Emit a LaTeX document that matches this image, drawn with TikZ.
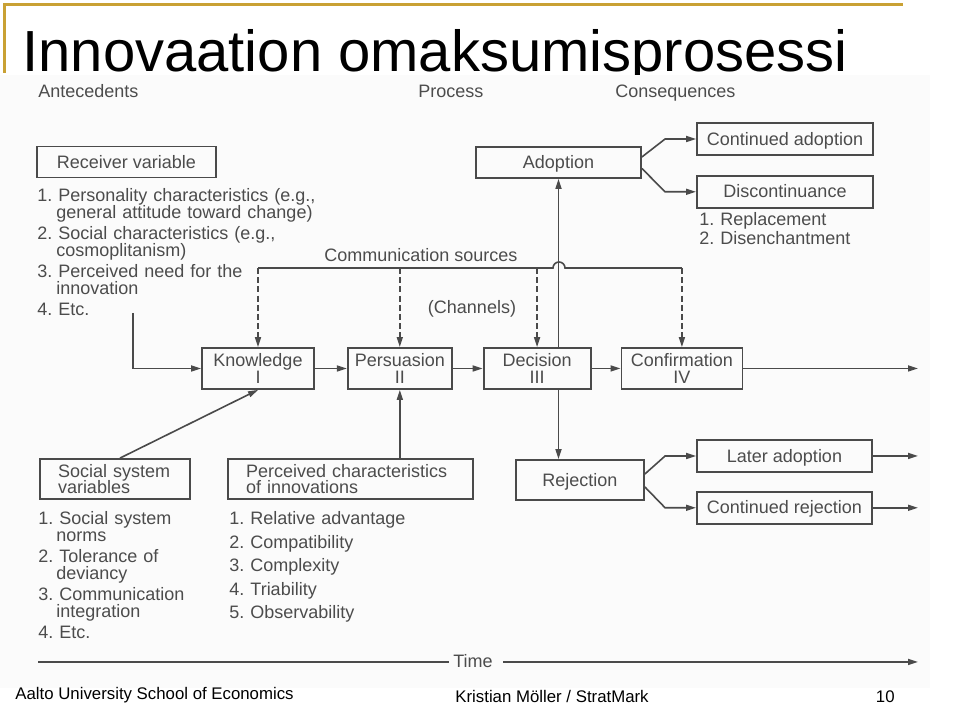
\documentclass[tikz,border=0pt]{standalone}
\usepackage{fontspec}
\setmainfont{Liberation Sans}
\usetikzlibrary{
    arrows.meta,
    positioning,
    calc
}
\definecolor{slidegold}{RGB}{201,161,52}
\definecolor{scanline}{RGB}{74,74,74}
\definecolor{scantext}{RGB}{76,76,76}
\definecolor{scanpaper}{RGB}{251,251,251}
\newcommand{\scanfont}{\fontsize{9}{8.4}\selectfont}
\tikzstyle{box} = [
    rectangle,
    draw=scanline,
    line width=0.9pt,
    text=scantext,
    font=\scanfont,
    minimum height=15.5pt,
    inner sep=0pt,
    align=center
]
\tikzstyle{onebox} = [
    box,
    text height=6.6pt,
    text depth=0.4pt
]
\tikzstyle{stage} = [
    box,
    minimum height=20.5pt
]
\tikzstyle{leftbox} = [
    box,
    minimum height=20pt,
    inner xsep=9pt,
    align=left
]
\tikzstyle{scanlabel} = [
    text=scantext,
    font=\scanfont,
    inner sep=0pt
]
\tikzstyle{itemlist} = [
    scanlabel,
    align=left,
    anchor=base west
]
\tikzstyle{arrow} = [
    -{Triangle[length=5pt,width=3pt]},
    line width=0.8pt,
    draw=scanline
]
\tikzstyle{channel} = [
    arrow,
    dash pattern=on 3pt off 1.6pt
]

\begin{document}
\frenchspacing
\begin{tikzpicture}[x=0.5pt, y=-0.5pt]
    \useasboundingbox (0,0) rectangle (960,704);

    % Slide title
    \draw[slidegold, line width=1.5pt] (4,73) -- (4,5) -- (903,5);
    \node[anchor=base west, inner sep=0pt, font=\fontsize{29}{29}\selectfont] (title) at (22,72) {Innovaation omaksumisprosessi};

    % Scanned figure
    \fill[scanpaper] (0,75) rectangle (930,688);
    \node[scanlabel, anchor=base west] (antec) at (38,98) {Antecedents};
    \node[scanlabel, anchor=base west] (proc) at (418,98) {Process};
    \node[scanlabel, anchor=base west] (conseq) at (615,98) {Consequences};

    % Antecedents
    \node[onebox, minimum width=89.5pt] (recv) at (126.5,162) {Receiver variable};
    \node[itemlist, text width=145pt] (recvlist) at (37,202) {1. Personality characteristics (e.g.,\\\hspace*{9.5pt}general attitude toward change)\\[2.1pt]2. Social characteristics (e.g.,\\\hspace*{9.5pt}cosmoplitanism)\\[2.1pt]3. Perceived need for the\\\hspace*{9.5pt}innovation\\[2.1pt]4. Etc.};
    \coordinate (recvout) at (133,313);

    \node[leftbox, text width=57pt] (social) at (115,479) {Social system\\variables};
    \node[itemlist, text width=80pt] (sociallist) at (38,525) {1. Social system\\\hspace*{9pt}norms\\[2.1pt]2. Tolerance of\\\hspace*{9pt}deviancy\\[2.1pt]3. Communication\\\hspace*{9pt}integration\\[2.1pt]4. Etc.};

    \node[leftbox, text width=104.5pt] (perc) at (350.5,479) {Perceived characteristics\\of innovations};
    \node[itemlist, text width=100pt] (perclist) at (229,525) {1. Relative advantage\\[3.35pt]2. Compatibility\\[3.35pt]3. Complexity\\[3.35pt]4. Triability\\[3.35pt]5. Observability};

    % Process
    \node[stage, minimum width=56pt] (know) at (258,368.5) {Knowledge\\I};
    \node[stage, minimum width=52pt, right=16pt of know] (pers) {Persuasion\\II};
    \node[stage, minimum width=53.5pt, right=15pt of pers] (deci) {Decision\\III};
    \node[stage, minimum width=60.5pt, right=14.5pt of deci] (conf) {Confirmation\\IV};

    \draw[arrow] (know) -- (pers);
    \draw[arrow] (pers) -- (deci);
    \draw[arrow] (deci) -- (conf);

    % Communication channels
    \node[scanlabel] (commsrc) at (421,255) {Communication sources};
    \node[scanlabel] (channels) at (472,309) {(Channels)};
    \coordinate (commline) at (0,268);
    \draw[draw=scanline, line width=0.8pt] (know.north |- commline) -- (553,268) arc (180:360:6) -- (conf.north |- commline);
    \draw[channel] (know.north |- commline) -- (know.north);
    \draw[channel] (pers.north |- commline) -- (pers.north);
    \draw[channel] (deci.north |- commline) -- (deci.north);
    \draw[channel] (conf.north |- commline) -- (conf.north);

    % Consequences
    \node[onebox, minimum width=82.5pt] (adopt) at (558.5,162.5) {Adoption};
    \node[onebox, minimum width=88pt, minimum height=16pt] (contad) at (785,139) {Continued adoption};
    \node[onebox, minimum width=88pt, minimum height=16pt, below=9.5pt of contad] (discont) {Discontinuance};
    \node[itemlist, text width=90pt] (disclist) at (699,226) {1. Replacement\\[1.1pt]2. Disenchantment};

    \node[onebox, minimum width=64pt, minimum height=20pt] (rej) at (580,480) {Rejection};
    \node[onebox, minimum width=87.5pt, minimum height=16pt] (later) at (784.5,456) {Later adoption};
    \node[onebox, minimum width=87.5pt, minimum height=16pt, below=9pt of later] (contrej) {Continued rejection};

    \coordinate (rightend) at (918,0);

    % Antecedent links
    \draw[arrow] (recvout) |- (know.west);
    \draw[arrow] ([xshift=2.5pt]social.north) -- (know.south);
    \draw[arrow] (pers.south |- perc.north) -- (pers.south);

    % Decision outcomes
    \draw[arrow] (adopt.south |- deci.north) -- (adopt.south);
    \draw[arrow] (adopt.south |- deci.south) -- (adopt.south |- rej.north);
    \draw[arrow] ([yshift=2.75pt]adopt.east) -- ([xshift=-15.5pt]contad.west) -- (contad.west);
    \draw[arrow] ([yshift=-3pt]adopt.east) -- ([xshift=-15.5pt]discont.west) -- (discont.west);
    \draw[arrow] ([yshift=3pt]rej.east) -- ([xshift=-15.5pt]later.west) -- (later.west);
    \draw[arrow] ([yshift=-3.5pt]rej.east) -- ([xshift=-15.5pt]contrej.west) -- (contrej.west);
    \draw[arrow] (conf.east) -- (conf.east -| rightend);
    \draw[arrow] (later.east) -- (later.east -| rightend);
    \draw[arrow] (contrej.east) -- (contrej.east -| rightend);

    % Time axis
    \node[scanlabel] (time) at (473,661) {Time};
    \coordinate (timestart) at (38,662);
    \draw[draw=scanline, line width=0.8pt] (timestart) -- ([xshift=-2pt]time.west |- timestart);
    \draw[arrow] ([xshift=5pt]time.east |- timestart) -- (timestart -| rightend);

    % Footer
    \node[anchor=base west, inner sep=0pt, font=\fontsize{8.4}{8.4}\selectfont] (school) at (15,700) {Aalto University School of Economics};
    \node[anchor=base west, inner sep=0pt, font=\fontsize{8.4}{8.4}\selectfont] (author) at (455,703) {Kristian Möller / StratMark};
    \node[anchor=base east, inner sep=0pt, font=\fontsize{8.4}{8.4}\selectfont] (pageno) at (895,703) {10};
\end{tikzpicture}
\end{document}
